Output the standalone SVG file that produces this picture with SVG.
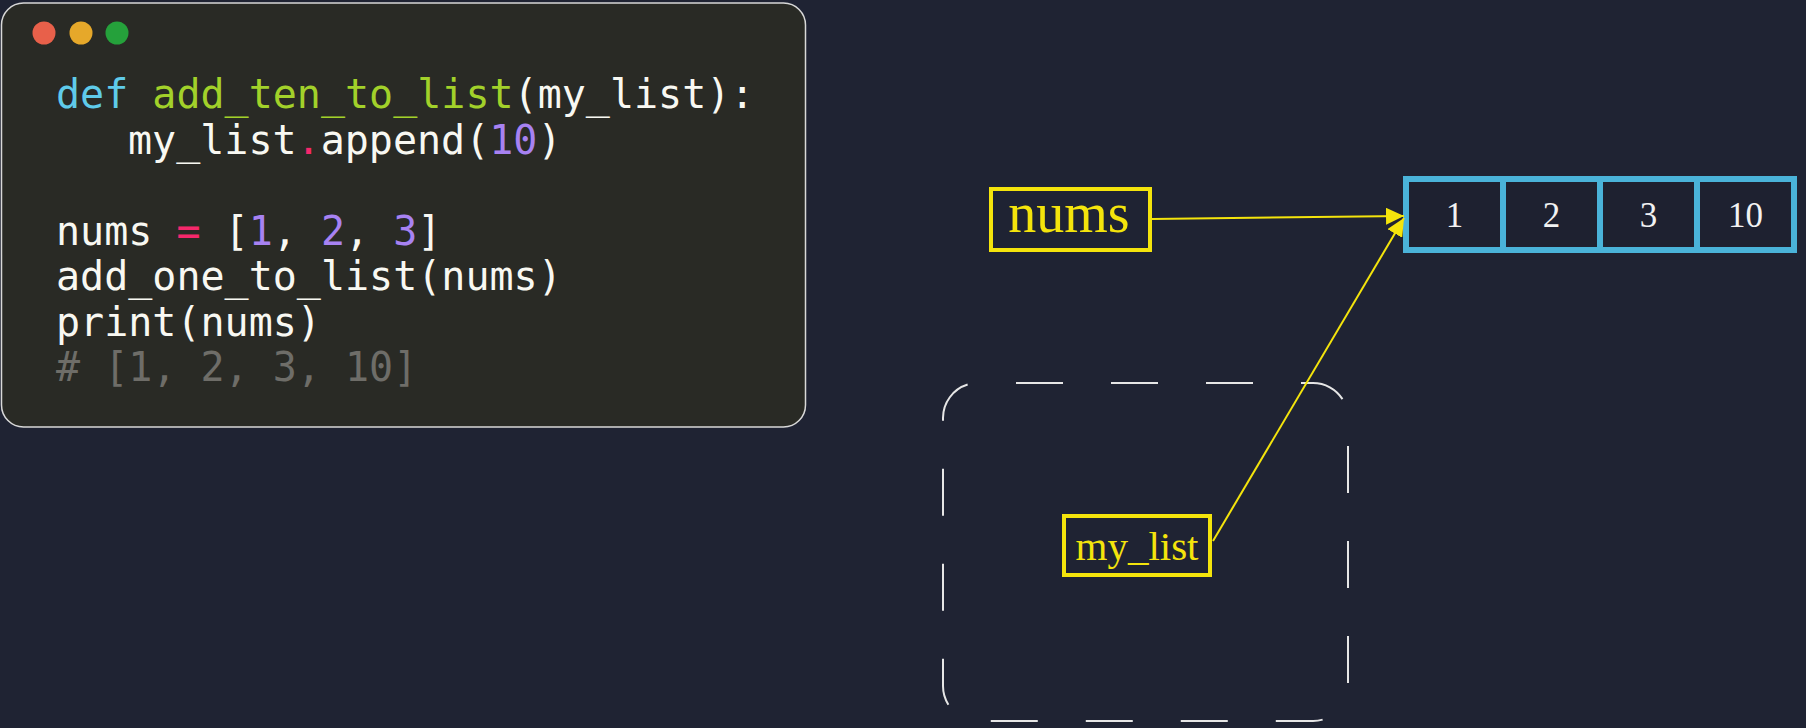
<svg xmlns="http://www.w3.org/2000/svg" width="1806" height="728" viewBox="0 0 1806 728">
  <style>
    .code { font-family: "DejaVu Sans Mono", "Liberation Mono", monospace; font-size: 40px; fill: #f8f8f2; }
    .kw { fill: #5fcbea; }
    .fn { fill: #a2d12a; }
    .op { fill: #f5286b; }
    .num { fill: #a782f2; }
    .cmt { fill: #6e6d68; }
    .ylabel { font-family: "Liberation Serif", "Times New Roman", serif; fill: #f4e40c; text-anchor: middle; }
    .ybox { fill: #1f2333; stroke: #f4e40c; stroke-width: 4; }
    .cell { font-family: "Liberation Serif", "Times New Roman", serif; font-size: 35px; fill: #f2f2f2; text-anchor: middle; }
    .conn { stroke: #f4e40c; stroke-width: 2; fill: none; }
  </style>
  <defs>
    <marker id="arrow" markerUnits="userSpaceOnUse" markerWidth="18" markerHeight="17" refX="18" refY="8.5" orient="auto">
      <path d="M0,0 L18,8.5 L0,17 z" fill="#f4e40c"/>
    </marker>
  </defs>
  <rect x="0" y="0" width="1806" height="728" fill="#1f2333"/>

  <g id="code-panel">
    <rect x="1.5" y="3" width="804" height="424" rx="22" fill="#292a25" stroke="#d8d8d8" stroke-width="1.5"/>
    <circle cx="44" cy="33" r="11.5" fill="#e8604a"/>
    <circle cx="81" cy="33" r="11.5" fill="#e6a82a"/>
    <circle cx="117" cy="33" r="11.5" fill="#25a13b"/>
    <text class="code" xml:space="preserve" x="56" y="108"><tspan class="kw">def</tspan> <tspan class="fn">add_ten_to_list</tspan>(my_list):</text>
    <text class="code" xml:space="preserve" x="128" y="153.5">my_list<tspan class="op">.</tspan>append(<tspan class="num">10</tspan>)</text>
    <text class="code" xml:space="preserve" x="56" y="244.5">nums <tspan class="op">=</tspan> [<tspan class="num">1</tspan>, <tspan class="num">2</tspan>, <tspan class="num">3</tspan>]</text>
    <text class="code" xml:space="preserve" x="56" y="290">add_one_to_list(nums)</text>
    <text class="code" xml:space="preserve" x="56" y="335.5">print(nums)</text>
    <text class="code cmt" xml:space="preserve" x="56" y="381"># [1, 2, 3, 10]</text>
  </g>

  <g id="frame">
    <rect x="943" y="383" width="405" height="338" rx="35" fill="none" stroke="#e6e6e6" stroke-width="2" stroke-dasharray="47 48" stroke-dashoffset="-38"/>
  </g>

  <g id="nums">
    <rect class="ybox" x="991" y="189" width="159" height="61"/>
    <text class="ylabel" x="1069" y="232" font-size="56">nums</text>
  </g>

  <g id="array">
    <rect x="1406" y="179" width="388" height="71" fill="#1e2130" stroke="#4ab3d9" stroke-width="6"/>
    <line x1="1503" y1="179" x2="1503" y2="250" stroke="#4ab3d9" stroke-width="6"/>
    <line x1="1600" y1="179" x2="1600" y2="250" stroke="#4ab3d9" stroke-width="6"/>
    <line x1="1697" y1="179" x2="1697" y2="250" stroke="#4ab3d9" stroke-width="6"/>
    <text class="cell" x="1454.5" y="227">1</text>
    <text class="cell" x="1551.5" y="227">2</text>
    <text class="cell" x="1648.5" y="227">3</text>
    <text class="cell" x="1745.5" y="227">10</text>
  </g>

  <g id="my_list">
    <rect class="ybox" x="1064" y="516" width="146" height="59"/>
    <text class="ylabel" x="1137" y="560" font-size="41">my_list</text>
  </g>

  <g id="connectors">
    <line class="conn" x1="1152" y1="219" x2="1404" y2="216" marker-end="url(#arrow)"/>
    <line class="conn" x1="1213" y1="541" x2="1404" y2="218" marker-end="url(#arrow)"/>
  </g>
</svg>
